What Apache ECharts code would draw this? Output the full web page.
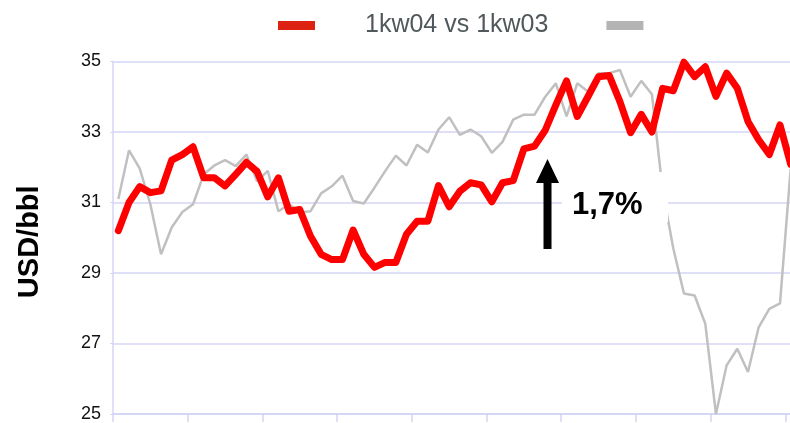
<!DOCTYPE html>
<html>
<head>
<meta charset="utf-8">
<script src="https://cdn.jsdelivr.net/npm/echarts@6/dist/echarts.min.js"></script>
<style>
html, body { margin: 0; padding: 0; background: #fff; overflow: hidden; }
/* the plot runs a few pixels past the right edge of the picture */
#main { width: 796px; height: 423px; }
</style>
</head>
<body>
<div id="main"></div>
<script>
// weeks on the x axis (labels sit below the visible area)
var weeks = ['1', '2', '3', '4', '5', '6', '7', '8', '9', '10', '11', '12', '13', '14', '15', '16',
    '17', '18', '19', '20', '21', '22', '23', '24', '25', '26', '27', '28', '29', '30', '31', '32',
    '33', '34', '35', '36', '37', '38', '39', '40', '41', '42', '43', '44', '45', '46', '47', '48',
    '49', '50', '51', '52', '53', '54', '55', '56', '57', '58', '59', '60', '61', '62', '63', '64'];

// 1kw04 vs 1kw03 (red)
var kw04 = [30.2, 31.0, 31.45, 31.28, 31.33, 32.2, 32.36, 32.58, 31.7, 31.7, 31.47, 31.8, 32.14, 31.88, 31.16, 31.7,
    30.75, 30.8, 30.05, 29.53, 29.38, 29.38, 30.22, 29.53, 29.16, 29.3, 29.3, 30.1, 30.47, 30.47, 31.48, 30.88,
    31.32, 31.56, 31.5, 31.02, 31.56, 31.62, 32.52, 32.6, 33.05, 33.77, 34.45, 33.44, 34.0, 34.57, 34.6, 33.86,
    32.98, 33.5, 33.0, 34.24, 34.17, 34.98, 34.57, 34.85, 34.01, 34.67, 34.24, 33.3, 32.78, 32.36, 33.2, 32.08];

// vorige periode (grijs)
var kw03 = [31.1, 32.48, 31.97, 30.95, 29.53, 30.29, 30.73, 30.95, 31.8, 32.05, 32.2, 32.03, 32.36, 31.6, 31.9, 30.75,
    30.95, 30.72, 30.75, 31.26, 31.46, 31.76, 31.04, 30.97, 31.42, 31.89, 32.33, 32.05, 32.64, 32.42, 33.07, 33.42,
    32.92, 33.07, 32.88, 32.41, 32.72, 33.35, 33.49, 33.49, 34.0, 34.38, 33.44, 34.38, 34.15, 34.67, 34.67, 34.76,
    34.0, 34.45, 34.07, 31.35, 29.7, 28.42, 28.36, 27.56, 25.0, 26.38, 26.85, 26.19, 27.46, 27.98, 28.14, 31.95];

var seriesNames = ['1kw04 vs 1kw03', ' '];
var yMin = 25, yMax = 35, yStep = 2;
var note = '1,7%';

var gridColor = '#d4d4f6';
var myChart = echarts.init(document.getElementById('main'));

var option = {
    backgroundColor: '#fff',
    animation: false,
    legend: {
        data: seriesNames,
        left: 273,
        top: 8,
        icon: 'rect',
        itemWidth: 37,
        itemHeight: 9,
        itemGap: 58,
        selectedMode: false,
        textStyle: {
            fontFamily: 'Liberation Sans',
            fontSize: 25,
            color: '#50585c',
            padding: [0, 0, 0, 45]
        }
    },
    grid: {
        left: 113,
        right: 0,
        top: 61.5,
        bottom: 7.5,
        containLabel: false
    },
    xAxis: {
        type: 'category',
        data: weeks,
        boundaryGap: true,
        axisLine: { lineStyle: { color: gridColor, width: 1.5 } },
        axisTick: { show: true, interval: 6, length: 8, lineStyle: { color: gridColor, width: 1.5 } },
        axisLabel: { show: false },
        splitLine: { show: false }
    },
    yAxis: {
        type: 'value',
        min: yMin,
        max: yMax,
        interval: yStep,
        name: 'USD/bbl',
        nameLocation: 'middle',
        nameRotate: 90,
        nameGap: 69,
        nameTextStyle: {
            fontFamily: 'Liberation Sans',
            fontSize: 29,
            fontWeight: 'bold',
            color: '#000',
            padding: [0, 8, 0, 0]
        },
        axisLine: { show: true, lineStyle: { color: gridColor, width: 1.5 } },
        axisTick: { show: true, length: 3, lineStyle: { color: gridColor } },
        axisLabel: {
            margin: 12,
            fontFamily: 'Liberation Sans',
            fontSize: 18,
            color: '#111'
        },
        splitLine: { lineStyle: { color: gridColor, width: 1.5 } }
    },
    graphic: [
        {
            // witte achtergrond achter het percentage
            type: 'rect',
            z: 100,
            shape: { x: 562, y: 172, width: 106, height: 50 },
            style: { fill: '#fff' }
        },
        {
            type: 'polygon',
            z: 101,
            shape: {
                points: [[547.5, 159], [559, 183], [551.5, 183], [551.5, 249], [543.5, 249], [543.5, 183], [536, 183]]
            },
            style: { fill: '#000' }
        },
        {
            type: 'text',
            z: 101,
            left: 572,
            top: 190,
            style: {
                text: note,
                fill: '#000',
                font: 'bold 31px "Liberation Sans"'
            }
        }
    ],
    series: [
        {
            name: seriesNames[1],
            type: 'line',
            data: kw03,
            showSymbol: false,
            symbol: 'none',
            z: 2,
            itemStyle: { color: '#b4b4b4' },
            lineStyle: { color: '#c0c0c0', width: 2.5 }
        },
        {
            name: seriesNames[0],
            type: 'line',
            data: kw04,
            showSymbol: false,
            symbol: 'none',
            z: 3,
            itemStyle: { color: '#dd2211' },
            lineStyle: { color: '#ff0000', width: 7, join: 'round', cap: 'round' }
        }
    ]
};

myChart.setOption(option);
</script>
</body>
</html>
